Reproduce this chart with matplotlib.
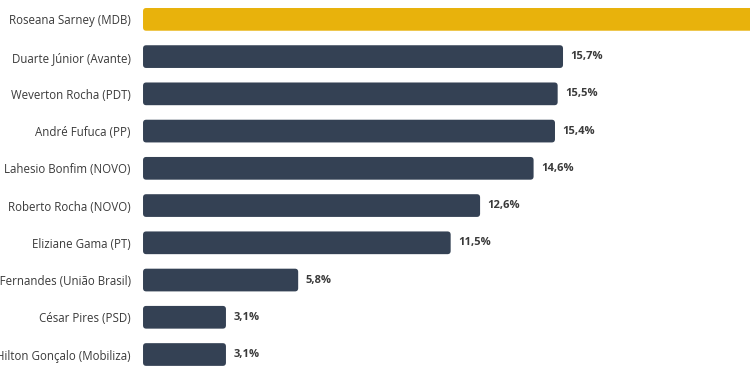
import matplotlib.pyplot as plt
from matplotlib.patches import FancyBboxPatch

candidates = ["Roseana Sarney (MDB)", "Duarte Júnior (Avante)", "Weverton Rocha (PDT)",
              "André Fufuca (PP)", "Lahesio Bonfim (NOVO)", "Roberto Rocha (NOVO)",
              "Eliziane Gama (PT)", "Pedro Lucas Fernandes (União Brasil)",
              "César Pires (PSD)", "Hilton Gonçalo (Mobiliza)"]
# first bar runs off the picture, its value is a guess
values = [30.0, 15.7, 15.5, 15.4, 14.6, 12.6, 11.5, 5.8, 3.1, 3.1]

GOLD = "#E8B20C"
NAVY = "#344154"
TXT = "#3a3a3a"

plt.rcParams['font.family'] = ['Open Sans', 'DejaVu Sans']

fig = plt.figure(figsize=(7.5, 3.75), dpi=100)
ax = fig.add_axes([0.1907, 0.0, 0.8093, 1.0])

ypos = list(range(len(values)))
bars = ax.barh(ypos, values, height=0.61,
               color=[GOLD] + [NAVY] * (len(values) - 1))

# swap the plain rectangles for rounded ones
for b in bars:
    x, y, w, h = b.get_x(), b.get_y(), b.get_width(), b.get_height()
    b.set_visible(False)
    ax.add_patch(FancyBboxPatch((x, y), w, h,
                                boxstyle="round,pad=0,rounding_size=0.12",
                                mutation_aspect=0.725,
                                fc=b.get_facecolor(), ec="none"))

for i, v in enumerate(values[1:], start=1):
    ax.text(v + 0.27, i, f"{v:.1f}%".replace(".", ","), va="center", ha="left",
            fontsize=8, fontweight="bold", color=TXT)

ax.set_xlim(0, 22.69)
ax.set_ylim(len(values) - 0.45, -0.52)
ax.set_yticks(ypos)
ax.set_yticklabels(candidates, fontsize=8.3, color=TXT)
ax.tick_params(axis="y", length=0, pad=9)
ax.set_xticks([])
for s in ax.spines.values():
    s.set_visible(False)

fig.savefig("out.png", dpi=100)
